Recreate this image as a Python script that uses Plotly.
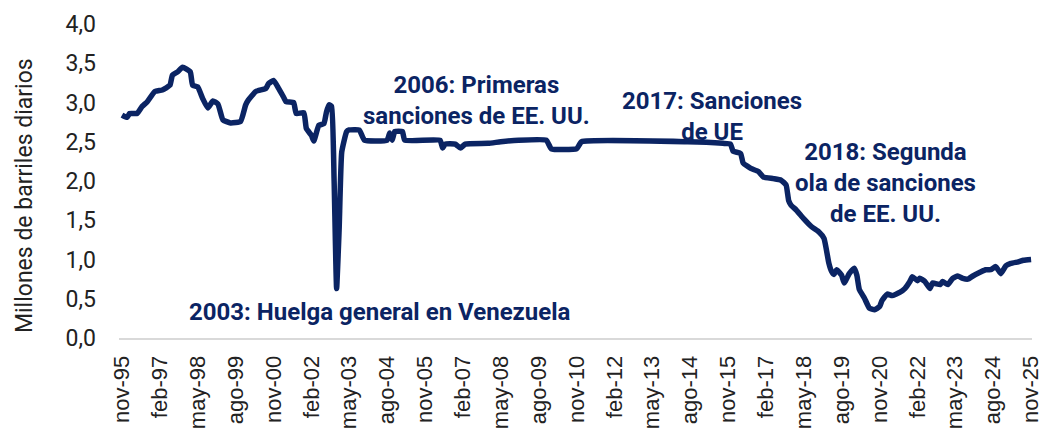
import plotly.graph_objects as go

# Monthly oil production, Venezuela (millions of barrels per day)
dates = [
    "1995-11", "1996-01", "1996-02", "1996-05", "1996-07", "1996-09", "1996-12",
    "1997-03", "1997-06", "1997-07", "1997-09", "1997-11", "1998-02", "1998-03",
    "1998-05", "1998-07", "1998-09", "1998-11", "1999-01", "1999-03", "1999-06",
    "1999-10", "1999-12", "2000-01", "2000-04", "2000-08", "2000-09", "2000-11",
    "2001-01", "2001-03", "2001-04", "2001-07", "2001-08", "2001-11", "2001-12",
    "2002-02", "2002-03", "2002-05", "2002-07", "2002-08", "2002-09", "2002-10",
    "2002-11", "2002-12", "2003-01", "2003-02", "2003-04", "2003-05", "2003-09",
    "2003-11", "2004-08", "2004-09", "2004-10", "2004-11", "2005-02", "2005-03",
    "2006-05", "2006-06", "2006-07", "2006-11", "2007-01", "2007-03", "2007-12",
    "2008-05", "2008-12", "2009-11", "2010-01", "2010-11", "2011-01", "2014-07",
    "2015-09", "2015-12", "2016-01", "2016-04", "2016-05", "2016-08", "2016-11",
    "2017-01", "2017-05", "2017-08", "2017-10", "2017-11", "2017-12", "2018-02",
    "2018-05", "2018-08", "2018-11", "2019-01", "2019-03", "2019-04", "2019-05",
    "2019-06", "2019-08", "2019-09", "2019-11", "2020-01", "2020-02", "2020-03",
    "2020-05", "2020-07", "2020-09", "2020-11", "2020-12", "2021-02", "2021-04",
    "2021-07", "2021-09", "2021-11", "2021-12", "2022-02", "2022-03", "2022-05",
    "2022-07", "2022-08", "2022-11", "2022-12", "2023-02", "2023-04", "2023-06",
    "2023-08", "2023-10", "2023-12", "2024-03", "2024-05", "2024-07", "2024-09",
    "2024-11", "2025-01", "2025-03", "2025-06", "2025-08", "2025-11",
]
production = [
    2.84, 2.81, 2.86, 2.86, 2.95, 3.01, 3.14,
    3.16, 3.22, 3.35, 3.39, 3.45, 3.39, 3.22,
    3.20, 3.05, 2.93, 3.02, 2.98, 2.78, 2.74,
    2.76, 2.97, 3.03, 3.14, 3.18, 3.24, 3.28,
    3.18, 3.07, 3.01, 3.00, 2.86, 2.87, 2.67,
    2.58, 2.51, 2.71, 2.73, 2.88, 2.97, 2.95,
    2.00, 0.63, 1.40, 2.37, 2.63, 2.65, 2.65,
    2.52, 2.52, 2.61, 2.52, 2.63, 2.63, 2.52,
    2.52, 2.42, 2.47, 2.47, 2.42, 2.47, 2.48,
    2.50, 2.52, 2.52, 2.41, 2.41, 2.50, 2.50,
    2.48, 2.47, 2.38, 2.35, 2.23, 2.16, 2.12,
    2.05, 2.03, 2.01, 1.95, 1.75, 1.69, 1.63,
    1.52, 1.42, 1.35, 1.27, 0.95, 0.85, 0.81,
    0.87, 0.80, 0.70, 0.82, 0.89, 0.80, 0.62,
    0.51, 0.38, 0.36, 0.40, 0.48, 0.56, 0.54,
    0.58, 0.63, 0.72, 0.78, 0.73, 0.76, 0.72,
    0.63, 0.70, 0.68, 0.72, 0.68, 0.76, 0.79,
    0.76, 0.75, 0.79, 0.84, 0.87, 0.87, 0.91,
    0.82, 0.92, 0.95, 0.97, 0.99, 1.00,
]

tick_dates = [
    "1995-11", "1997-02", "1998-05", "1999-08", "2000-11", "2002-02", "2003-05",
    "2004-08", "2005-11", "2007-02", "2008-05", "2009-08", "2010-11", "2012-02",
    "2013-05", "2014-08", "2015-11", "2017-02", "2018-05", "2019-08", "2020-11",
    "2022-02", "2023-05", "2024-08", "2025-11",
]
tick_labels = [
    "nov-95", "feb-97", "may-98", "ago-99", "nov-00", "feb-02", "may-03",
    "ago-04", "nov-05", "feb-07", "may-08", "ago-09", "nov-10", "feb-12",
    "may-13", "ago-14", "nov-15", "feb-17", "may-18", "ago-19", "nov-20",
    "feb-22", "may-23", "ago-24", "nov-25",
]

annotation_texts = [
    "2003: Huelga general en Venezuela",
    "2006: Primeras<br>sanciones de EE. UU.",
    "2017: Sanciones<br>de UE",
    "2018: Segunda<br>ola de sanciones<br>de EE. UU.",
]

NAVY = "#0b2463"

fig = go.Figure()
fig.add_trace(go.Scatter(
    x=[d + "-01" for d in dates], y=production, mode="lines",
    line=dict(color=NAVY, width=5.5, shape="spline", smoothing=0.4),
    showlegend=False, hoverinfo="skip",
))

ann_pos = [(0.286, 0.083), (0.392, 0.755), (0.650, 0.704), (0.839, 0.494)]
for txt, (ax, ay) in zip(annotation_texts, ann_pos):
    fig.add_annotation(
        text=txt, x=ax, y=ay, xref="paper", yref="paper",
        xanchor="center", yanchor="middle", showarrow=False, align="center",
        font=dict(family="Roboto", size=24, color=NAVY, weight="bold"),
    )

fig.add_annotation(
    text="Millones de barriles diarios", x=0, y=0.452, xref="paper", yref="paper",
    xshift=-95, textangle=-90, showarrow=False, xanchor="center", yanchor="middle",
    font=dict(family="Roboto", size=23, color="#222222"),
)

fig.update_layout(
    width=1043, height=429,
    margin=dict(l=119, r=11, t=24, b=91),
    paper_bgcolor="white", plot_bgcolor="white",
    separators=",.",
    xaxis=dict(
        type="date", range=["1995-09-26", "2025-11-12"], automargin=False,
        tickvals=[d + "-01" for d in tick_dates], ticktext=tick_labels,
        tickangle=-90, showgrid=False, zeroline=False,
        showline=True, linecolor="#d9d9d9", linewidth=2,
        ticks="", ticklabelstandoff=7, ticklabeloverflow="allow",
        tickfont=dict(family="Liberation Sans", size=22, color="#222222"),
    ),
    yaxis=dict(
        range=[0, 4], dtick=0.5, tickformat=".1f", showgrid=False,
        automargin=False,
        zeroline=False, showline=False, ticks="", ticklabelstandoff=22,
        tickfont=dict(family="Roboto", size=23, color="#222222"),
    ),
)

fig.write_html(
    "out.html",
    config={"displayModeBar": False},
    post_script="document.body.style.margin='0';document.body.style.overflow='hidden';",
)
